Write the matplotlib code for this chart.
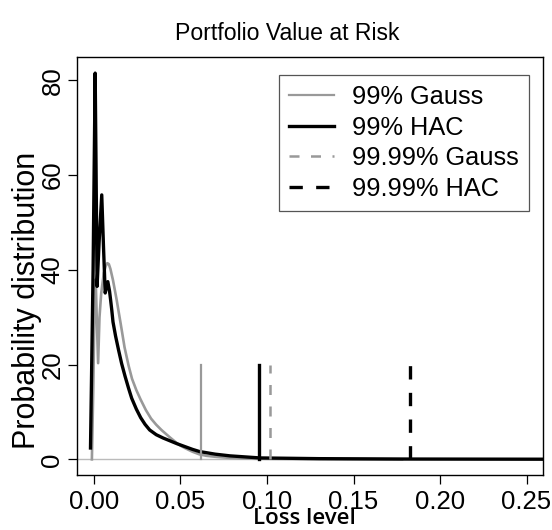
import matplotlib
matplotlib.use("Agg")
import matplotlib.pyplot as plt

plt.rcParams['font.family'] = ['Liberation Sans', 'DejaVu Sans']

# HAC density
hac_x = [-0.0020, -0.0005, 0.0007, 0.0012, 0.0018, 0.0030, 0.0045, 0.0055, 0.0065,
         0.0080, 0.0090, 0.0096, 0.0103, 0.0110, 0.0125, 0.0142, 0.0160, 0.0180,
         0.0200, 0.0218, 0.0245, 0.0270, 0.0295, 0.0322, 0.0360, 0.0400, 0.0440,
         0.0480, 0.0525, 0.0570, 0.0610, 0.0700, 0.0786, 0.0960, 0.1300, 0.1800,
         0.2200, 0.2650]
hac_y = [2.4, 40.0, 81.5, 62.0, 36.5, 46.0, 55.8, 45.0, 35.1,
         37.5, 35.5, 33.7, 31.5, 29.0, 26.0, 23.1, 20.2, 17.5,
         15.0, 12.9, 10.6, 8.8, 7.4, 6.2, 5.2, 4.5, 3.9,
         3.3, 2.7, 2.1, 1.65, 1.1, 0.74, 0.3, 0.15, 0.07,
         0.05, 0.03]

# Gaussian density
gauss_x = [-0.0012, -0.0004, 0.0003, 0.0010, 0.0016, 0.0024, 0.0032, 0.0042, 0.0057,
           0.0068, 0.0077, 0.0086, 0.0095, 0.0110, 0.0131, 0.0155, 0.0177, 0.0200,
           0.0220, 0.0245, 0.0270, 0.0300, 0.0330, 0.0360, 0.0390, 0.0415, 0.0440,
           0.0460, 0.0480, 0.0500, 0.0525, 0.0550, 0.0570, 0.0610, 0.0650, 0.0700,
           0.0786, 0.0900, 0.1000, 0.1200, 0.1500, 0.1780]
gauss_y = [0.0, 15.0, 32.0, 38.0, 30.0, 20.3, 30.0, 35.1, 39.3,
           40.8, 41.4, 41.2, 40.2, 37.8, 33.7, 28.5, 23.6, 19.8,
           17.0, 14.6, 12.6, 10.4, 8.6, 7.3, 6.2, 5.4, 4.6,
           4.0, 3.4, 2.9, 2.4, 1.95, 1.6, 1.05, 0.75, 0.55,
           0.3, 0.15, 0.1, 0.05, 0.02, 0.01]

# VaR levels
var_labels = ['99% Gauss', '99% HAC', '99.99% Gauss', '99.99% HAC']
var_values = [0.0617, 0.0952, 0.1016, 0.1825]
var_height = 20

gray = '#999999'
fig = plt.figure(figsize=(5.52, 5.30), dpi=100)
ax = fig.add_axes([77 / 552, 1 - 475 / 530, 466 / 552, 418 / 530])

ax.axhline(0, color='#bbbbbb', lw=1.0, zorder=1)
ax.plot(gauss_x, gauss_y, color=gray, lw=1.9, solid_joinstyle='round', zorder=2)
ax.plot(hac_x, hac_y, color='black', lw=2.4, solid_joinstyle='round', zorder=3)

styles = [(gray, 1.6, '-'), ('black', 2.4, '-'),
          (gray, 1.8, (0, (4, 4.6))), ('black', 2.4, (0, (4, 4)))]
handles = []
for val, lab, (c, w, ls) in zip(var_values, var_labels, styles):
    h, = ax.plot([val, val], [0, var_height], color=c, lw=w, ls=ls,
                 dash_capstyle='butt', label=lab, zorder=4)
    handles.append(h)

ax.set_xlim(-0.0098, 0.2595)
ax.set_ylim(-3.3, 84.9)
ax.set_xticks([0.0, 0.05, 0.10, 0.15, 0.20, 0.25])
ax.set_xticklabels(['0.00', '0.05', '0.10', '0.15', '0.20', '0.25'])
ax.set_yticks([0, 20, 40, 60, 80])
ax.tick_params(axis='both', direction='out', length=6.5, width=0.9, labelsize=18.5)
ax.tick_params(axis='x', pad=4.5)
ax.tick_params(axis='y', pad=2.5)
for t in ax.get_yticklabels():
    t.set_rotation(90)
    t.set_va('center')
for s in ax.spines.values():
    s.set_linewidth(1.0)

leg = ax.legend(handles=handles, loc='upper right', bbox_to_anchor=(529 / 552, 1 - 75 / 530),
                bbox_transform=fig.transFigure, fontsize=18.3, frameon=True, fancybox=False,
                edgecolor='#555555', framealpha=1, handlelength=1.75, handletextpad=0.72,
                labelspacing=0.26, borderpad=0.4, borderaxespad=0)
leg.get_frame().set_linewidth(0.9)

fig.text(287 / 552, 1 - 33 / 530, 'Portfolio Value at Risk', ha='center', va='center', fontsize=16.6)
fig.text(27 / 552, 1 - 300 / 530, 'Probability distribution', ha='center', va='center',
         rotation=90, fontsize=22)
fig.text(304 / 552, 1 - 529 / 530, 'Loss level', ha='center', va='bottom', fontsize=16,
         family=['Open Sans', 'DejaVu Sans'], fontweight='semibold')

fig.savefig('out.png', dpi=100)
